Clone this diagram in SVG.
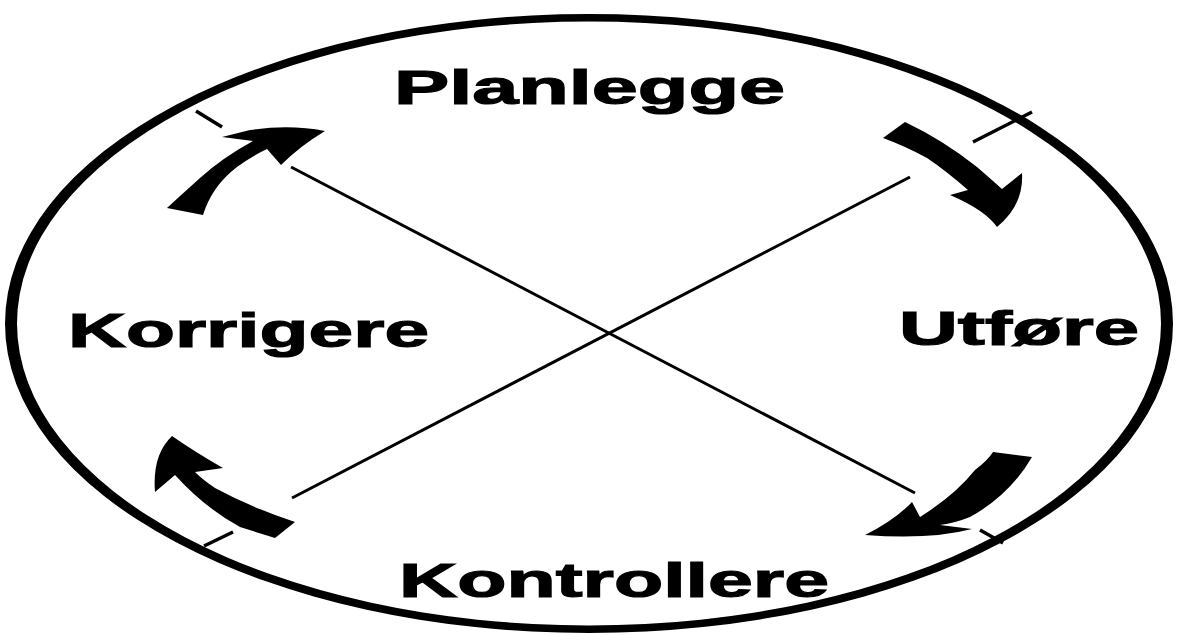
<svg xmlns="http://www.w3.org/2000/svg" width="1179" height="635" viewBox="0 0 1179 635">
<style>
.lbl{font-family:"Liberation Sans",Arial,sans-serif;font-weight:bold;font-size:49px;fill:#000;stroke:#000;stroke-width:1.2}
.ln{stroke:#000;stroke-width:3;fill:none;stroke-linecap:butt}
.tick{stroke:#000;stroke-width:3.5;fill:none}
.arr{fill:#000;stroke:none}
</style>
<rect width="1179" height="635" fill="#fff"/>
<g id="ring">
<path fill="#000" fill-rule="evenodd" d="M5,323.5 A584,309.5 0 1,0 1173,323.5 A584,309.5 0 1,0 5,323.5 Z M17,323.5 A572,302 0 1,0 1161,323.5 A572,302 0 1,0 17,323.5 Z"/>
<line class="tick" x1="196" y1="111" x2="222" y2="127"/>
<line class="tick" x1="973" y1="142" x2="1032" y2="112"/>
<line class="tick" x1="204" y1="546" x2="233" y2="532"/>
<line class="tick" x1="980" y1="530" x2="1003" y2="543"/>
</g>
<g id="node-planlegge"><text class="lbl" x="394" y="104" textLength="391" lengthAdjust="spacingAndGlyphs">Planlegge</text></g>
<g id="node-utfore"><text class="lbl" x="899" y="345" textLength="240" lengthAdjust="spacingAndGlyphs">Utføre</text></g>
<g id="node-kontrollere"><text class="lbl" x="399" y="597" textLength="430" lengthAdjust="spacingAndGlyphs">Kontrollere</text></g>
<g id="node-korrigere"><text class="lbl" x="68" y="347" textLength="361" lengthAdjust="spacingAndGlyphs">Korrigere</text></g>
<g id="connectors">
<line class="ln" x1="291" y1="167" x2="915" y2="493"/>
<line class="ln" x1="292" y1="498" x2="910" y2="177"/>
<path class="arr" d="M167,208 L203,215 Q212,186 237,167 Q252,156 267,149 L281,165 Q300,146 325,131 Q290,124 250,130 L222,137 L253,141 Q222,158 200,178 Q180,196 167,208 Z"/>
<path class="arr" d="M883,138 L905,122 Q943,140 977,167 Q992,180 1002,189 L1022,173 Q1024,205 997,227 Q985,210 950,195 L968,190 Q945,170 927,158 Q905,146 883,138 Z"/>
<path class="arr" d="M993,452 L1032,457 Q1010,495 970,517 Q955,523 940,525 L972,529 Q930,540 865,535 Q895,520 912,502 L920,517 Q955,495 975,470 Q988,460 993,452 Z"/>
<path class="arr" d="M295,522 Q250,507 215,488 Q203,480 195,472 L223,468 Q195,452 172,436 Q152,455 155,492 L175,475 Q205,508 240,527 L275,538 Z"/>
</g>
</svg>
